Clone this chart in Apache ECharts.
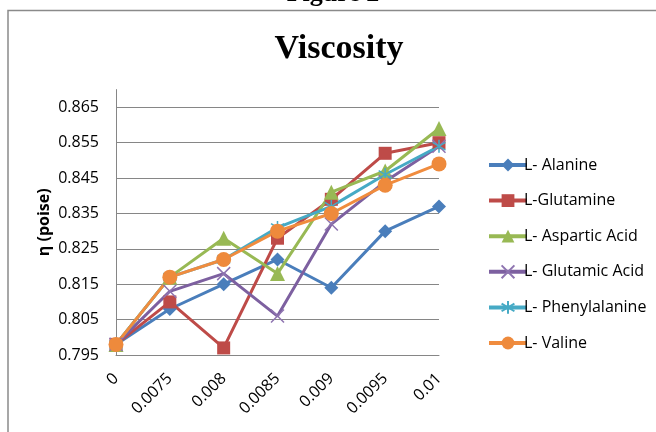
<!DOCTYPE html>
<html>
<head>
<meta charset="utf-8">
<script src="https://cdn.jsdelivr.net/npm/echarts@6/dist/echarts.min.js"></script>
<style>
  html, body { margin: 0; padding: 0; background: #ffffff; }
  #chart { width: 656px; height: 432px; }
</style>
</head>
<body>
<div id="chart"></div>
<script>
// Concentration categories (x axis)
const concentrations = ['0', '0.0075', '0.008', '0.0085', '0.009', '0.0095', '0.01'];

// Viscosity η (poise) for each amino acid
const alanine       = [0.798, 0.808, 0.815, 0.822, 0.814, 0.830, 0.837];
const glutamine     = [0.798, 0.810, 0.797, 0.828, 0.839, 0.852, 0.855];
const asparticAcid  = [0.798, 0.817, 0.828, 0.818, 0.841, 0.847, 0.859];
const glutamicAcid  = [0.798, 0.813, 0.818, 0.806, 0.832, 0.844, 0.854];
const phenylalanine = [0.798, 0.817, 0.822, 0.831, 0.837, 0.846, 0.854];
const valine        = [0.798, 0.817, 0.822, 0.830, 0.835, 0.843, 0.849];

// Y axis tick labels
const yTicks = [0.795, 0.805, 0.815, 0.825, 0.835, 0.845, 0.855, 0.865];

const seriesNames = ['L- Alanine', 'L-Glutamine', 'L- Aspartic Acid', 'L- Glutamic Acid', 'L- Phenylalanine', 'L- Valine'];

const labelFont = '"Open Sans", "Noto Sans", sans-serif';

const chart = echarts.init(document.getElementById('chart'), null, { renderer: 'canvas' });

function lineSeries(name, data, color, symbol, size, extra) {
  return Object.assign({
    name: name,
    type: 'line',
    data: data,
    symbol: symbol,
    symbolSize: size,
    showAllSymbol: true,
    lineStyle: { color: color, width: 3 },
    itemStyle: { color: color },
    emphasis: { disabled: true },
    animation: false
  }, extra || {});
}

const option = {
  backgroundColor: '#ffffff',
  animation: false,
  title: {
    text: 'Viscosity',
    left: 334,
    textAlign: 'center',
    top: 27,
    textStyle: {
      fontFamily: '"Liberation Serif", "Times New Roman", serif',
      fontWeight: 'bold',
      fontSize: 34,
      color: '#000000'
    }
  },
  graphic: [
    {
      type: 'rect',
      shape: { x: 8, y: 10.5, width: 700, height: 500 },
      style: { fill: 'none', stroke: '#8a8a8a', lineWidth: 1.5 },
      silent: true,
      z: -1
    },
    {
      type: 'text',
      x: 333,
      y: -6,
      style: {
        text: 'Figure 2',
        textAlign: 'center',
        textVerticalAlign: 'middle',
        font: 'bold 26px "Liberation Serif", "Times New Roman", serif',
        fill: '#000000'
      },
      silent: true
    }
  ],
  legend: {
    orient: 'vertical',
    left: 482,
    top: 152,
    itemWidth: 38,
    itemHeight: 16,
    itemGap: 19.6,
    lineStyle: { width: 4 },
    textStyle: {
      fontFamily: labelFont,
      fontSize: 16,
      color: '#000000',
      padding: [0, 0, 0, -8]
    },
    data: seriesNames
  },
  grid: {
    left: 116,
    right: 217,
    top: 89.6,
    bottom: 77,
    containLabel: false
  },
  xAxis: {
    type: 'category',
    data: concentrations,
    boundaryGap: false,
    axisLine: { show: true, lineStyle: { color: '#868686', width: 1 } },
    axisTick: { show: false },
    axisLabel: {
      rotate: 45,
      margin: 21,
      fontFamily: labelFont,
      fontSize: 16,
      color: '#000000'
    },
    splitLine: { show: false }
  },
  yAxis: {
    type: 'value',
    min: 0.795,
    max: 0.87,
    name: 'η (poise)',
    nameLocation: 'middle',
    nameGap: 64,
    nameTextStyle: {
      fontFamily: labelFont,
      fontWeight: 'bold',
      fontSize: 16,
      color: '#000000'
    },
    axisLine: { show: true, lineStyle: { color: '#868686', width: 1 } },
    axisTick: { show: false, customValues: yTicks },
    axisLabel: {
      customValues: yTicks,
      margin: 17,
      fontFamily: labelFont,
      fontSize: 16,
      color: '#000000',
      formatter: function (v) { return v.toFixed(3); }
    },
    splitLine: { show: true, lineStyle: { color: '#868686', width: 1 } }
  },
  series: [
    lineSeries(seriesNames[0], alanine, '#4A7EBB', 'diamond', 14),
    lineSeries(seriesNames[1], glutamine, '#BE4B48', 'rect', 13),
    lineSeries(seriesNames[2], asparticAcid, '#98B954', 'triangle', 15),
    lineSeries(seriesNames[3], glutamicAcid, '#7D60A0', 'path://M0,0L10,10M10,0L0,10', 13, {
      itemStyle: { color: '#7D60A0', borderColor: '#8E74B0', borderWidth: 1.5 }
    }),
    lineSeries(seriesNames[4], phenylalanine, '#46AAC5', 'path://M5,0L5,10M0,2L10,8M0,8L10,2', 13, {
      itemStyle: { color: '#46AAC5', borderColor: '#46AAC5', borderWidth: 1.5 }
    }),
    lineSeries(seriesNames[5], valine, '#F59A4E', 'circle', 15, {
      lineStyle: { color: '#F08C3E', width: 3 },
      itemStyle: { color: '#EE8A3C' }
    })
  ]
};

chart.setOption(option);
</script>
</body>
</html>
